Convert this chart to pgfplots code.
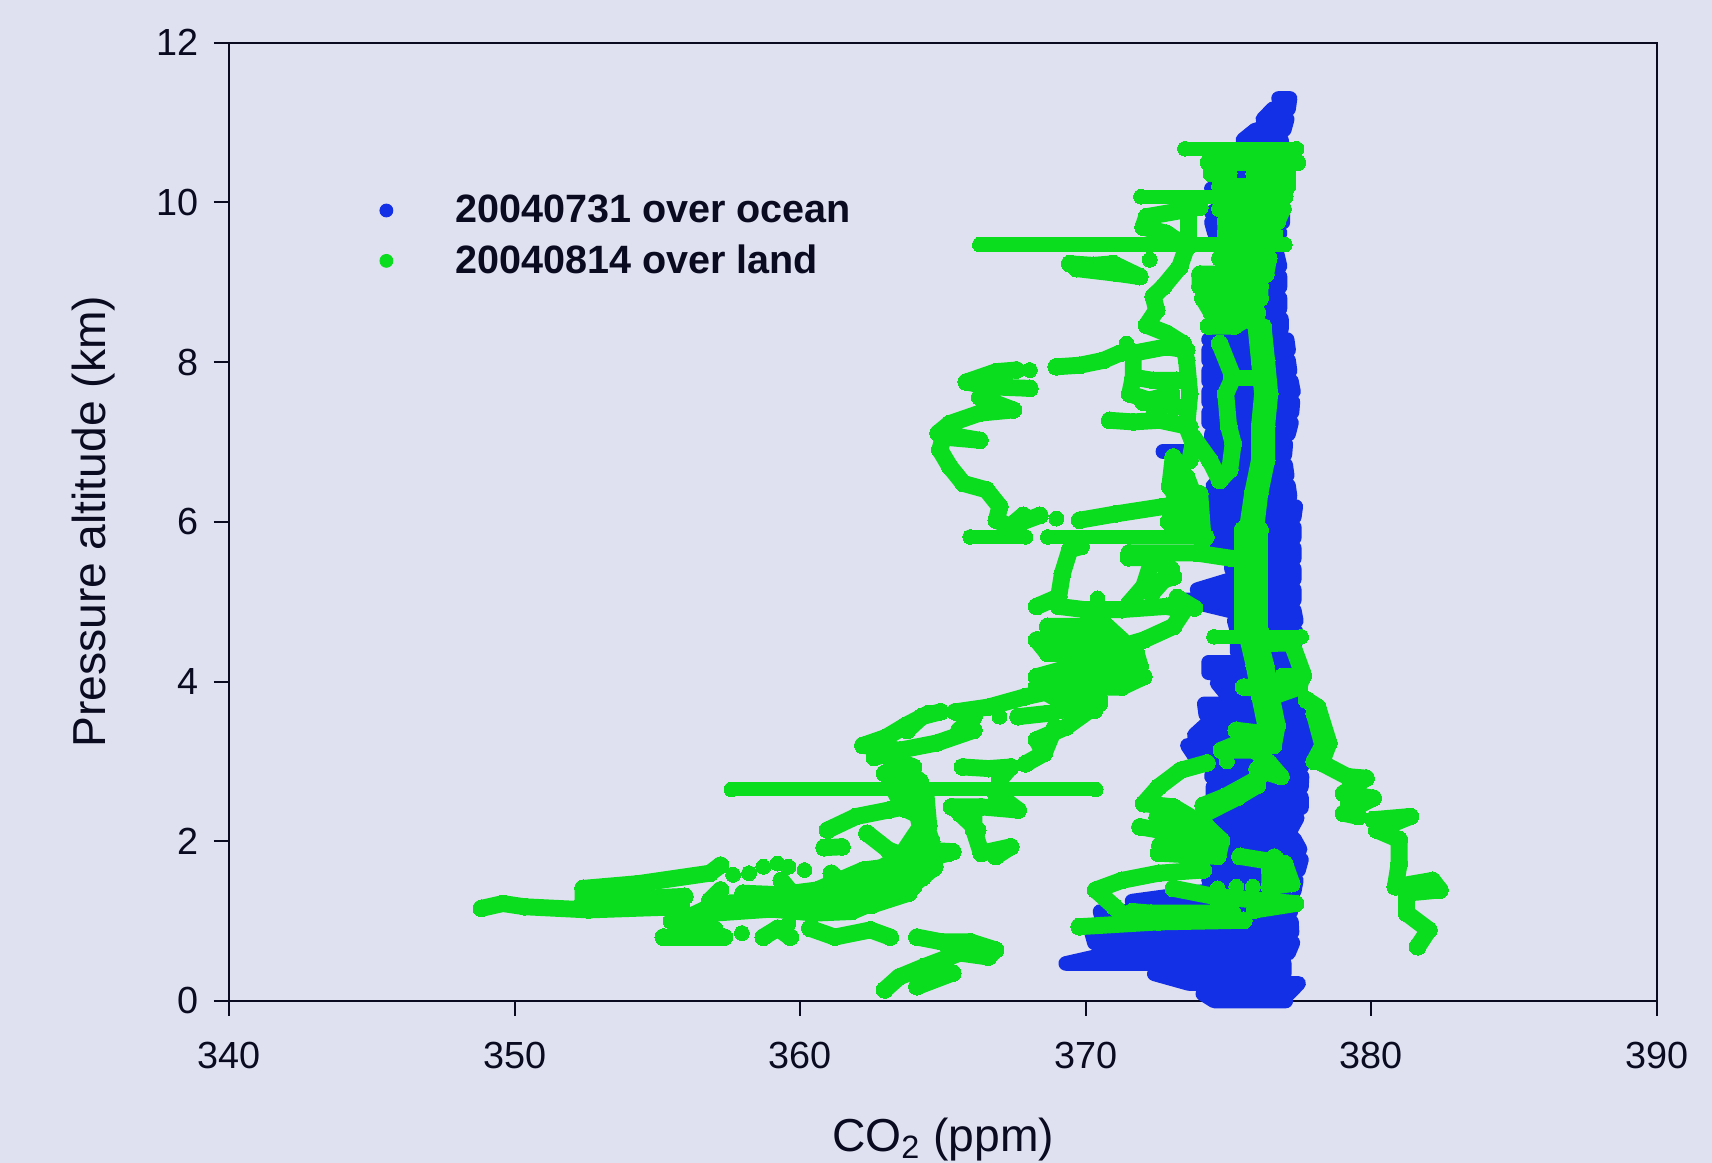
\documentclass[border=0pt]{standalone}
\usepackage{fontspec}
\setmainfont{Liberation Sans}
\usepackage{pgfplots}
\pgfplotsset{compat=1.18}
\definecolor{bgc}{HTML}{DFE1F0}
\definecolor{bluec}{HTML}{1430E6}
\definecolor{greenc}{HTML}{0ADC1E}
\definecolor{inkc}{HTML}{0A0A20}
\newcommand{\G}[1]{\addplot[gs,forget plot] coordinates {#1};}
\newcommand{\HL}[1]{\addplot[gs,line width=6.4pt,mark size=3.3pt,forget plot] coordinates {#1};}
\newcommand{\D}[1]{\addplot[gs,mark size=3.35pt,forget plot] coordinates {#1};}
\begin{document}
\begin{tikzpicture}
\useasboundingbox (-103.05pt,-72.9pt) rectangle (667.35pt,450.45pt);
\fill[bgc] (-103.05pt,-72.9pt) rectangle (667.35pt,450.45pt);
\begin{axis}[
  scale only axis, width=642.6pt, height=431.3pt,
  xmin=340, xmax=390, ymin=0, ymax=12,
  xtick={340,350,...,390}, ytick={0,2,...,12},
  clip=false, axis line style={draw=inkc,line width=0.9pt},
  tick style={draw=inkc,line width=0.9pt},
  tick align=outside, tickpos=left, major tick length=6.75pt,
  /pgf/number format/assume math mode=true,
  /pgf/number format/1000 sep={},
  ticklabel style={font=\fontsize{17}{20}\selectfont,text=inkc},
  xticklabel style={yshift=-8pt},
  yticklabel style={xshift=-3.5pt},
  xlabel={CO\textsubscript{2} (ppm)},
  ylabel={Pressure altitude (km)},
  label style={font=\fontsize{20.8}{24}\selectfont,text=inkc},
  xlabel style={at={(axis description cs:0.5,-0.1445)},anchor=center},
  ylabel style={at={(axis description cs:-0.095,0.5)},anchor=center,rotate=0},
  legend style={at={(axis description cs:0.1054,0.846)},anchor=north west,draw=none,fill=none,
    font=\fontsize{17.8}{20}\selectfont\bfseries,text=inkc,row sep=4.5pt,inner sep=0pt},
  legend cell align=left,
  legend image code/.code={\path[draw=none] (0,0)--(31pt,0); \path[#1] plot[mark=*] coordinates {(2pt,0pt)};},
  bs/.style={draw=bluec,line width=6.6pt,line join=round,line cap=round,mark=*,mark size=3.4pt,mark options={fill=bluec,draw=bluec,line width=0pt}},
  gs/.style={draw=greenc,line width=7.6pt,line join=round,line cap=round,mark=*,mark size=3.8pt,mark options={fill=greenc,draw=greenc,line width=0pt}},
]
\addlegendimage{only marks,mark=*,mark size=2.9pt,mark options={fill=bluec,draw=bluec}}
\addlegendentry{20040731 over ocean}
\addlegendimage{only marks,mark=*,mark size=2.9pt,mark options={fill=greenc,draw=greenc}}
\addlegendentry{20040814 over land}
% ocean flight
\addplot[bs,mark=none,forget plot] coordinates {
(376.75,11.3)(377.15,11.3)(377.1,11.17)(376.55,11.17)(376.2,11.04)(377.05,11.04)(376.95,10.91)(375.95,10.91)
(375.5,10.78)(376.85,10.78)(376.9,10.65)(375.2,10.65)(375,10.5)(376.9,10.5)(376.9,10.3)(375.3,10.3)
(374.4,10.17)(376.9,10.17)(376.9,10)(375,10)(374.4,9.87)(376.9,9.87)(376.9,9.75)(374.4,9.75)
(374.5,9.62)(376.8,9.62)(376.7,9.49)(375.5,9.49)(375.5,9.35)(376.7,9.35)(376.8,9.2)(375.5,9.2)
(375.5,9.07)(376.8,9.07)(376.8,8.94)(375.5,8.94)(375.5,8.8)(376.8,8.8)(376.8,8.67)(375.5,8.67)
(375.2,8.54)(376.85,8.54)(376.85,8.41)(375.2,8.41)(374.3,8.28)(377.05,8.28)(377.1,8.15)(374.3,8.15)
(374.3,8.02)(377.1,8.02)(377.15,7.89)(374.3,7.89)(374.3,7.76)(377.2,7.76)(377.27,7.63)(374.3,7.63)
(374.3,7.5)(377.25,7.5)(377.22,7.37)(374.3,7.37)(374.3,7.24)(377.2,7.24)(377.1,7.1)(374.4,7.1)
(374.4,6.97)(377,6.97)(376.97,6.84)(374.4,6.84)(374.8,6.71)(377,6.71)(377.05,6.58)(375,6.58)
(374.45,6.45)(377.1,6.45)(377.15,6.32)(374.45,6.32)(374.45,6.19)(377.35,6.19)(377.3,6.06)(374.45,6.06)
(374.45,5.93)(377.3,5.93)(377.3,5.8)(374.45,5.8)(374.45,5.67)(377.3,5.67)(377.3,5.54)(375.1,5.54)
(375.1,5.41)(377.3,5.41)(377.3,5.28)(375.1,5.28)(373.9,5.15)(377.3,5.15)(377.3,5.02)(373.5,5.02)
(375,4.89)(377.3,4.89)(377.37,4.76)(375.2,4.76)(375.3,4.63)(377.35,4.63)(377.35,4.5)(375.3,4.5)
(375.3,4.37)(377.35,4.37)(377.2,4.24)(374.3,4.24)(374.3,4.11)(377.2,4.11)(377.2,3.98)(374.6,3.98)
(374.9,3.85)(377.2,3.85)(377.3,3.72)(374.15,3.72)(374.2,3.59)(377.5,3.59)(377.7,3.46)(374.2,3.46)
(373.8,3.33)(377.72,3.33)(377.74,3.2)(373.56,3.2)(373.8,3.07)(377.65,3.07)(377.57,2.94)(374.47,2.94)
(374.4,2.81)(377.57,2.81)(377.55,2.68)(374.45,2.68)(374.45,2.55)(377.55,2.55)(377.55,2.42)(374.45,2.42)
(374.7,2.29)(377.4,2.29)(377.2,2.16)(374.8,2.16)(374.8,2.03)(377.3,2.03)(377.5,1.9)(374.8,1.9)
(374.7,1.77)(377.55,1.77)(377.45,1.64)(374.5,1.64)(374.3,1.51)(377.37,1.51)(377.3,1.38)(374.3,1.38)
(371.62,1.25)(377.2,1.25)(377.18,1.12)(370.5,1.12)(370.6,0.99)(377.2,0.99)(377.22,0.86)(370.2,0.86)
(370.3,0.73)(377.25,0.73)(377.1,0.6)(370.9,0.6)(369.3,0.47)(376.95,0.47)(376.95,0.34)(372.4,0.34)
(373.6,0.22)(377.45,0.22)(377.1,0.09)(374.1,0.09)(374.5,0)(377,0)};
\addplot[bs,mark=none,forget plot] coordinates {(372.7,6.88)(373.6,6.88)};
% land flight: upper part
\HL{(373.47,10.67)(377.38,10.67)}
\G{(374.3,10.5)(377.4,10.5)}
\G{(374.4,10.36)(375,10.36)}
\G{(375.9,10.36)(377.05,10.36)(377.05,10.2)(374.7,10.2)}
\HL{(371.93,10.07)(377,10.07)}
\G{(374.7,9.92)(376.9,9.92)(376.7,9.76)(374.9,9.76)(374.9,9.6)(376.6,9.6)}
\HL{(366.29,9.47)(376.97,9.47)}
\G{(374.7,9.3)(376.4,9.3)(376.3,9.1)(374,9.1)(374,8.95)(376.1,8.95)(376.1,8.8)(374.1,8.8)(374.4,8.62)(376,8.62)(375.2,8.45)(374.3,8.45)}
\G{(373.99,9.94)(373.41,9.9)(372.13,9.82)(372.01,9.69)(372.83,9.61)(373.53,9.44)(373.29,9.19)(372.71,8.94)(372.36,8.82)(372.48,8.65)(372.13,8.46)(372.83,8.36)(373.41,8.23)(373.53,8.02)(373.64,7.6)(373.53,7.19)(373.76,6.98)(373.64,6.77)}
\G{(373.6,9.9)(373.6,9.45)}
\G{(369.44,9.23)(370.26,9.21)(370.96,9.23)(371.89,9.07)(371.08,9.11)(369.67,9.17)}
\D{(372.24,9.28)}
\G{(376.21,8.44)(376.33,8.02)(376.44,7.6)(376.33,7.19)(376.33,6.77)(376.09,6.35)(375.9,5.77)}
\G{(375.96,8.44)(376.08,8.02)(376.19,7.6)(376.08,7.19)(376.08,6.77)(375.84,6.35)(375.6,5.77)}
\G{(374.69,8.23)(375.16,7.81)(374.9,7.6)(375,7.2)(375.16,6.98)(375.04,6.65)(374.69,6.52)(374.34,6.77)(373.76,7.06)}
\G{(375.1,7.8)(376.3,7.8)}
\G{(371.19,8.11)(370.61,8.02)(369.79,7.96)(368.97,7.94)}
\D{(368.04,7.9)}
\G{(367.57,7.9)(366.87,7.88)(365.82,7.75)(366.64,7.69)(368.04,7.67)(366.64,7.69)(366.29,7.56)(366.87,7.48)(367.46,7.4)(366.29,7.36)(365.24,7.23)(364.83,7.11)(366.29,7.02)(365.01,7.06)(364.89,6.9)(365.24,6.69)(365.71,6.48)(366.52,6.4)(366.99,6.19)(366.87,6.02)(367.34,5.94)(367.81,6.08)(367.34,5.94)(368.39,6.08)}
\D{(368.97,6.04)}
\G{(369.79,6.02)(371.08,6.1)(372.71,6.19)(373.53,6.23)}
\D{(371.43,8.23)}
\G{(371.66,8.11)(371.66,7.81)(371.54,7.6)(372.59,7.48)(373.18,7.44)}
\G{(371.66,8.11)(372.83,8.19)(373.53,8.15)}
\G{(371.66,7.81)(372.36,7.77)(373.18,7.77)}
\G{(372,7.5)(373,7.6)(372.4,7.4)}
\G{(370.84,7.27)(371.66,7.25)(372.59,7.27)(373.64,7.19)}
\HL{(365.95,5.81)(367.89,5.81)}
\HL{(368.67,5.81)(374.24,5.81)}
\G{(373.06,6.81)(372.94,6.44)(373.41,6.19)(373.76,5.94)}
\G{(373.18,6.65)(373.76,6.35)(373.53,6.56)}
\G{(373.99,6.35)(374.11,5.77)}
\G{(372.9,6.2)(373.8,6.1)(372.9,6)(374,5.95)}
% land flight: middle part
\G{(375.5,5.9)(375.5,4.65)}
\G{(376.1,5.9)(376.1,4.65)}
\G{(375.8,5.9)(375.8,4.65)}
\G{(375.6,4.65)(375.9,4.2)(376.1,3.8)(376.3,3.45)(376.15,3.2)}
\G{(376,4.65)(376.3,4.2)(376.5,3.8)(376.7,3.45)(376.57,3.2)}
\G{(376.6,4.48)(377.21,4.48)(377.6,4.1)(377.47,3.93)(376.44,3.8)}
\G{(376.9,4.06)(377.6,4.06)}
\HL{(374.49,4.56)(377.54,4.56)}
\G{(375.53,3.93)(376.83,3.89)}
\G{(377.73,3.77)(378.12,3.68)(378.51,3.23)(378.25,2.98)(379.16,2.81)(379.81,2.79)(379.03,2.6)(380.06,2.54)(379.03,2.35)(379.55,2.31)}
\G{(378,3.6)(378.3,3.2)(378,3)}
\G{(379.2,2.5)(379.4,2.75)(379.3,2.4)}
\G{(380.06,2.27)(381.36,2.31)(380.19,2.14)(380.97,2.02)(380.97,1.72)(380.84,1.43)(382.14,1.51)(382.4,1.39)(381.23,1.35)(381.23,1.1)(382.01,0.89)(381.62,0.68)}
\G{(375.27,3.39)(376.18,3.35)(374.75,3.14)(375.92,3.14)(376.44,2.97)(376.83,2.81)(376,2.9)}
\D{(374.94,3)}
\G{(374.24,2.98)(373.33,2.89)(372.55,2.68)(372.03,2.47)(373.07,2.43)(374.24,2.18)(374.75,2.01)(374.62,1.81)(372.55,1.85)(373.85,1.85)}
\G{(372.5,2.3)(373.5,2.3)(374.3,2.05)(373.3,2.05)(372.6,1.95)(374.3,1.95)}
\G{(374.2,2.35)(375.3,2.55)(376,2.7)}
\G{(371.9,2.18)(372.55,2.14)(373.59,2.22)(374.2,2.1)}
\G{(374.11,1.64)(372.55,1.6)(371.26,1.51)(370.35,1.39)(371,1.18)(371.39,1.05)}
\G{(369.77,0.93)(372.55,0.99)(375.53,1.01)}
\G{(371.64,1.12)(372.29,1.1)(375.14,1.1)}
\G{(374.11,2.45)(374.88,2.56)(376.05,2.79)}
\G{(373.07,1.41)(374.49,1.31)(377.34,1.22)(375.92,1.14)}
\D{(374.62,1.41)}
\D{(375.27,1.43)}
\D{(375.85,1.43)}
\G{(375.4,1.81)(376.96,1.72)(377.21,1.47)(376.44,1.43)(376.44,1.64)}
\G{(376.6,1.8)(376.9,1.5)}
% centre mass
\G{(369.05,4.94)(369.96,4.9)(371.26,4.9)(372.81,4.94)(373.46,4.9)(373.07,4.69)(372.03,4.52)(371.26,4.44)}
\G{(373.2,5.05)(373.8,4.92)}
\D{(370.41,5.04)}
\G{(369.83,5.69)(369.44,5.65)(369.18,5.35)(369.05,5.06)(368.28,4.94)}
\G{(371.52,5.61)(373.85,5.61)(375.14,5.54)}
\G{(371.5,5.55)(372.6,5.55)(373,5.4)(372.8,5.3)(372.3,5.1)}
\G{(372.29,5.48)(372.03,5.19)(371.52,4.98)}
\G{(372.3,5.6)(373.07,5.31)(372.03,5.19)}
\G{(368.67,4.69)(370.74,4.69)(371.26,4.52)(368.28,4.52)(368.67,4.35)(371.77,4.35)(371.9,4.19)(369.57,4.19)(368.28,4.06)(372.03,4.06)(371.26,3.93)(368.28,3.93)(369.05,3.77)(370.48,3.77)(370.3,3.64)(369.05,3.64)}
\G{(370.48,3.73)(369.31,3.43)(368.28,3.27)(368.54,3.1)(367.89,2.97)}
\G{(368.92,3.43)(368.54,3.1)}
\G{(365.43,3.62)(366.59,3.68)(367.89,3.81)(369.05,3.9)}
\G{(363.75,3.39)(364.26,3.56)(364.91,3.62)}
\G{(365.56,3.39)(366.08,3.56)(365.43,3.62)}
\G{(362.2,3.2)(363.49,3.14)(364.78,3.23)(366.08,3.39)}
\D{(366.98,3.56)}
\G{(367.63,3.56)(368.67,3.6)}
\G{(365.69,2.93)(366.59,2.91)(367.37,2.93)(366.98,2.77)}
\HL{(357.59,2.65)(370.35,2.65)}
\G{(365.3,2.43)(366.34,2.43)(367.63,2.39)(366.85,2.6)}
\G{(366.08,2.35)(366.08,2.14)(366.34,1.85)(367.37,1.93)(366.85,1.81)}
\G{(365.17,1.85)(363.87,1.72)(364.65,1.66)(363.87,1.43)}
\G{(362.2,3.2)(363,3.3)(363.7,3.45)(364.5,3.6)}
\G{(362.6,3.05)(363.5,3.14)}
\G{(363.2,3.05)(363.2,2.7)(363.5,2.5)}
\G{(363.5,2.95)(364.2,2.75)(363.7,2.4)(364.3,2.3)(364.6,2)(363.8,1.7)(364.3,1.55)}
% land flight: lower part
\G{(360.96,2.14)(361.96,2.31)(363.09,2.39)(364.21,2.47)}
\G{(360.84,1.92)(361.46,1.93)}
\G{(362.34,2.1)(363.09,1.89)(363.96,1.77)}
\G{(362.96,2.85)(363.96,2.93)(363.34,3.02)}
\G{(363.6,2.95)(363.96,2.56)(364.21,2.18)(363.59,1.85)(363.21,1.6)}
\G{(364.4,2.6)(364.5,2.2)(364.1,1.9)}
\G{(365.34,1.87)(364.34,1.89)}
\G{(364.71,1.68)(363.09,1.6)}
\G{(365.59,2.35)(366.21,2.14)}
\G{(348.84,1.16)(349.59,1.22)(350.34,1.18)(352.59,1.14)(355.84,1.18)}
\G{(352.4,1.41)(354.34,1.47)(356.84,1.6)(357.21,1.7)}
\G{(352.4,1.41)(352.4,1.25)(355.96,1.31)}
\D{(357.65,1.58)}
\D{(358.21,1.6)}
\D{(358.71,1.68)}
\D{(359.21,1.72)}
\D{(359.59,1.68)}
\D{(360.15,1.64)}
\G{(359.34,1.51)(359.71,1.35)(360.59,1.39)(362.21,1.64)(363.09,1.68)}
\G{(356.09,1.05)(357.09,1.22)(359.34,1.26)(361.84,1.18)(363.96,1.43)}
\G{(357,1.1)(359,1.15)(360.5,1.1)(361.8,1.12)(363,1.3)(364,1.6)}
\G{(358,1.35)(360,1.32)(361.5,1.45)(362.5,1.6)(364,1.9)}
\G{(361,1.25)(362.5,1.2)(363.8,1.35)(363.5,1.6)(362.3,1.45)(361.3,1.5)}
\G{(357.21,1.39)(356.84,1.26)}
\G{(361.09,1.6)(362.09,1.27)(361.21,1.35)(363.71,1.6)(361.84,1.14)(363.09,1.39)}
\G{(355.21,0.8)(357.34,0.8)}
\G{(356.09,1.05)(356.21,0.85)}
\G{(355.7,0.95)(357,0.9)}
\G{(355.5,1)(356.6,1.05)(356.5,0.85)}
\D{(357.96,0.85)}
\G{(358.71,0.8)(359.21,0.91)(359.65,0.8)}
\D{(359.59,0.97)}
\G{(360.34,0.91)(361.21,0.8)(362.46,0.89)(363.15,0.8)}
\G{(364.09,0.8)(364.96,0.74)(365.96,0.74)(366.84,0.64)(366.59,0.55)(365.59,0.6)(364.34,0.43)(363.46,0.3)(362.96,0.14)}
\G{(364.09,0.18)(365.34,0.35)(364.6,0.3)}
\end{axis}
\end{tikzpicture}
\end{document}
